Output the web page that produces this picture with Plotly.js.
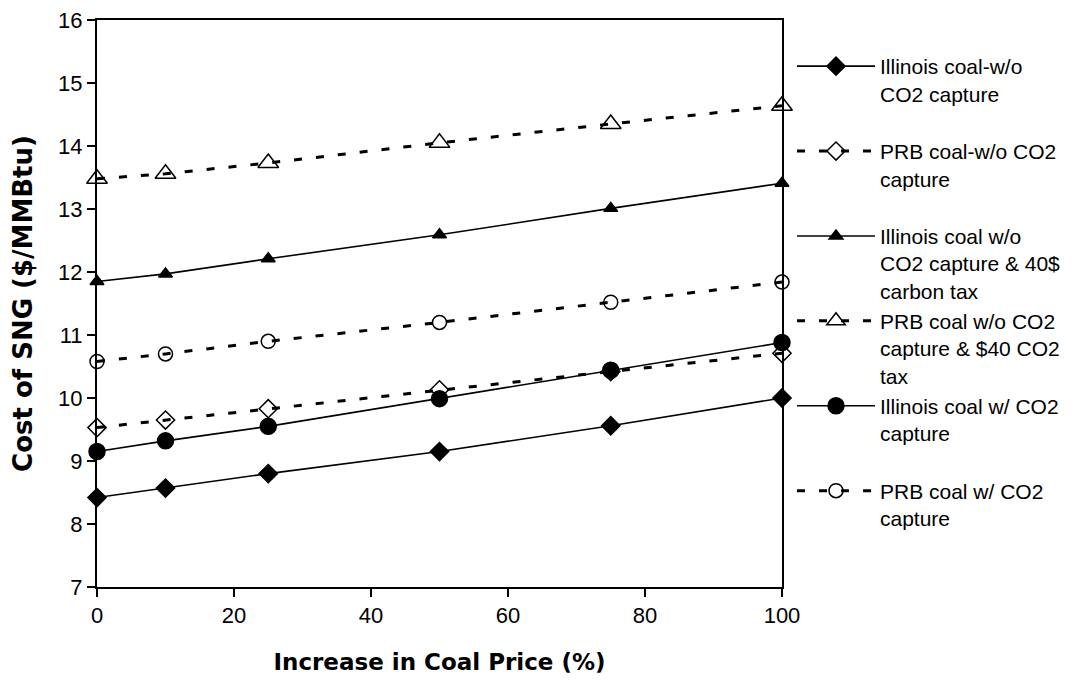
<!DOCTYPE html>
<html>
<head>
<meta charset="utf-8">
<script src="https://cdn.plot.ly/plotly-3.0.1.min.js"></script>
<style>
  html, body { margin: 0; padding: 0; background: #ffffff; }
  #chart { width: 1090px; height: 686px; }
</style>
</head>
<body>
<div id="chart"></div>
<script>
// ---- data ----
const coalPriceIncrease = [0, 10, 25, 50, 75, 100];

const illinoisNoCapture   = [8.42, 8.57, 8.80, 9.15, 9.56, 10.00];
const prbNoCapture        = [9.53, 9.65, 9.83, 10.13, 10.42, 10.71];
const illinoisNoCaptureTax = [11.85, 11.97, 12.21, 12.59, 13.01, 13.41];
const prbNoCaptureTax     = [13.48, 13.56, 13.73, 14.05, 14.35, 14.64];
const illinoisCapture     = [9.15, 9.32, 9.55, 9.99, 10.44, 10.88];
const prbCapture          = [10.58, 10.70, 10.90, 11.20, 11.52, 11.84];

const seriesNames = [
  "Illinois coal-w/o<br>CO2 capture<br> ",
  "PRB coal-w/o CO2<br>capture<br> ",
  "Illinois coal w/o<br>CO2 capture & 40$<br>carbon tax",
  "PRB coal w/o CO2<br>capture & $40 CO2<br>tax",
  "Illinois coal w/ CO2<br>capture<br> ",
  "PRB coal w/ CO2<br>capture<br> "
];

const yTickVals = [7, 8, 9, 10, 11, 12, 13, 14, 15, 16];
const xTickVals = [0, 20, 40, 60, 80, 100];

const solid = {color: "#000000", width: 1.6, dash: "solid"};
const dashed = {color: "#000000", width: 3, dash: "8px,14px"};

function trace(y, name, line, symbol, size) {
  return {
    x: coalPriceIncrease, y: y, name: name,
    type: "scatter", mode: "lines+markers",
    line: line,
    marker: {symbol: symbol, size: size, color: "#000000",
             line: {color: "#000000", width: 1.5}},
    cliponaxis: false
  };
}

const data = [
  trace(illinoisNoCapture, seriesNames[0], solid, "diamond", 14),
  trace(prbNoCapture, seriesNames[1], dashed, "diamond-open", 14),
  trace(illinoisNoCaptureTax, seriesNames[2], solid, "triangle-up", 12),
  trace(prbNoCaptureTax, seriesNames[3], dashed, "triangle-up-open", 18),
  trace(illinoisCapture, seriesNames[4], solid, "circle", 16),
  trace(prbCapture, seriesNames[5], dashed, "circle-open", 14)
];

const layout = {
  width: 1090, height: 686,
  paper_bgcolor: "#ffffff", plot_bgcolor: "#ffffff",
  margin: {l: 97, r: 308, t: 20, b: 99},
  font: {family: "Liberation Sans, Arial, sans-serif", color: "#000000", size: 22},
  showlegend: true,
  legend: {
    xref: "container", yref: "container",
    x: 792 / 1090, y: 1 - 46 / 686, xanchor: "left", yanchor: "top",
    font: {family: "Liberation Sans, Arial, sans-serif", size: 21, color: "#000000"},
    itemwidth: 78, valign: "top", tracegroupgap: 0, maxheight: 660,
    bgcolor: "rgba(0,0,0,0)", borderwidth: 0
  },
  xaxis: {
    range: [0, 100], tickvals: xTickVals, ticktext: xTickVals.map(String),
    showgrid: false, zeroline: false,
    showline: true, linecolor: "#000000", linewidth: 2, mirror: true,
    ticks: "outside", ticklen: 8, tickwidth: 1.5, tickcolor: "#000000",
    tickfont: {size: 22},
    title: {text: "Increase in Coal Price (%)", standoff: 26,
            font: {family: "DejaVu Sans, sans-serif", size: 23, weight: "bold"}}
  },
  yaxis: {
    range: [7, 16], tickvals: yTickVals, ticktext: yTickVals.map(String),
    showgrid: false, zeroline: false,
    showline: true, linecolor: "#000000", linewidth: 2, mirror: true,
    ticks: "outside", ticklen: 8, tickwidth: 1.5, tickcolor: "#000000",
    tickfont: {size: 22},
    title: {text: "Cost of SNG ($/MMBtu)", standoff: 18,
            font: {family: "DejaVu Sans, sans-serif", size: 26, weight: "bold"}}
  }
};

Plotly.newPlot("chart", data, layout, {displayModeBar: false, staticPlot: true});
</script>
</body>
</html>
